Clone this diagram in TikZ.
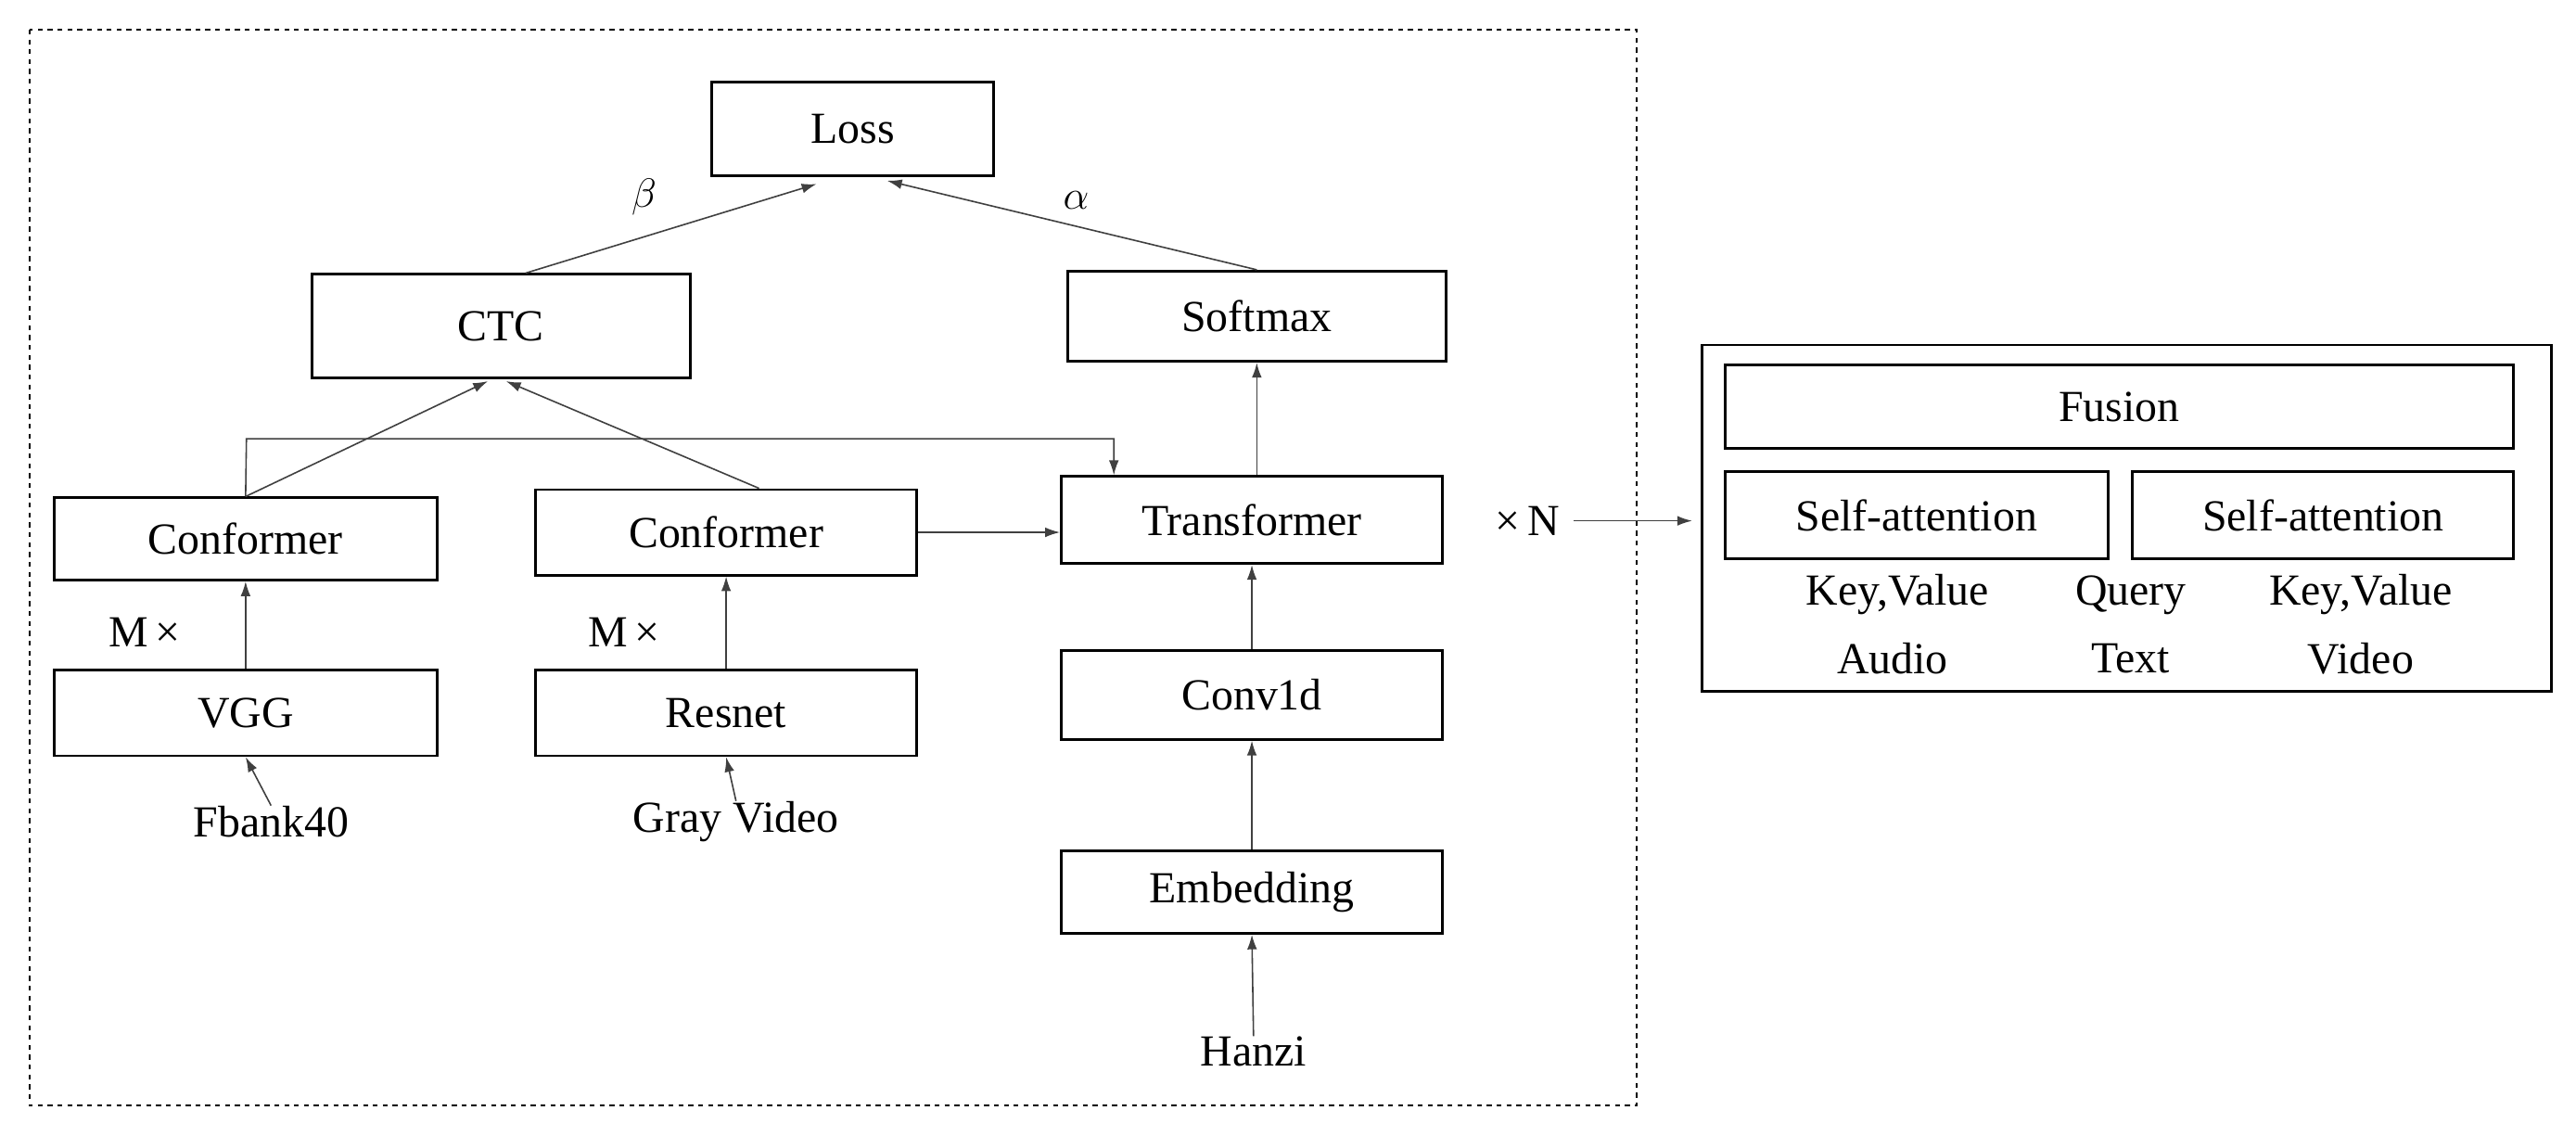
\documentclass[tikz,border=0pt]{standalone}
\usepackage{fontspec}
\setmainfont{Liberation Serif}
\usetikzlibrary{arrows.meta}
\begin{document}
\begin{tikzpicture}[x=1pt,y=-1pt,
  box/.style={draw,line width=1.6pt,inner sep=0pt,font=\fontsize{27}{30}\selectfont},
  lbl/.style={inner sep=0pt,font=\fontsize{27}{30}\selectfont},
  arr/.style={-{Latex[length=9pt,width=6pt]},line width=0.9pt,draw=black!75}]
\useasboundingbox (0,0) rectangle (1568,691);
\draw[dashed,line width=1.2pt] (18,18) rectangle (996,673);
\newcommand\bx[6]{\node[box,minimum width=#4-#2,minimum height=#5-#3] (#1) at ({(#2+#4)/2},{(#3+#5)/2}) {#6};}
\bx{loss}{433}{50}{605}{107}{Loss}
\bx{ctc}{190}{167}{420}{230}{CTC}
\bx{soft}{650}{165}{880}{220}{Softmax}
\bx{conf1}{33}{303}{266}{353}{Conformer}
\bx{conf2}{326}{298}{558}{350}{Conformer}
\bx{trans}{646}{290}{878}{343}{Transformer}
\bx{vgg}{33}{408}{266}{460}{VGG}
\bx{res}{326}{408}{558}{460}{Resnet}
\bx{conv}{646}{396}{878}{450}{Conv1d}
\bx{emb}{646}{518}{878}{568}{Embedding}
\node[lbl] (fb) at (165,500) {Fbank40};
\node[lbl] (gv) at (448,500) {Gray Video};
\node[lbl] (hz) at (763,640) {Hanzi};
\node[lbl] (m1) at (88,385) {M\,×};
\node[lbl] (m2) at (380,385) {M\,×};
\node[lbl] (xn) at (930,317) {×\,N};
\node[lbl] (be) at (392,120) {$\beta$};
\node[lbl] (al) at (655,122) {$\alpha$};
\draw[arr] (ctc.north) ++(15,0) coordinate (c1) -- (497,112);
\coordinate (l1) at (497,110);
\coordinate (l2) at (540,110);
\draw[arr] (soft.north) -- (l2);
\coordinate (ct1) at (297,232);
\coordinate (ct2) at (308,232);
\draw[arr] (conf1.north) -- (ct1);
\draw[arr] ([xshift=20pt]conf2.north) -- (ct2);
\draw[line width=0.9pt,draw=black!75,-{Latex[length=9pt,width=6pt]}] (conf1.north) -- (150,267) -| ([xshift=-84pt]trans.north);
\draw[arr] (conf2.east) -- (trans.west|-conf2.east);
\draw[arr] (soft.south|-trans.north) -- (soft.south);
\draw[arr] (conv.north) -- (trans.south);
\draw[arr] (emb.north) -- (conv.south);
\draw[arr] (hz.north) -- (emb.south);
\draw[arr] (fb.north) -- (vgg.south);
\draw[arr] (gv.north) -- (res.south);
\draw[arr] (vgg.north) -- (conf1.south);
\draw[arr] (res.north) -- (conf2.south);
% right panel
\draw[line width=1.6pt] (1036,210) rectangle (1553,421);
\bx{fus}{1050}{222}{1530}{273}{Fusion}
\bx{sa1}{1050}{287}{1283}{340}{Self-attention}
\bx{sa2}{1298}{287}{1530}{340}{Self-attention}
\coordinate (rp) at (1030,317);
\draw[arr] (xn.east) ++(8,0) -- (rp);
\node[lbl] at (1155,362) {Key,Value};
\node[lbl] at (1297,362) {Query};
\node[lbl] at (1437,362) {Key,Value};
\node[lbl] at (1152,401) {Audio};
\node[lbl] at (1297,401) {Text};
\node[lbl] at (1437,401) {Video};
\end{tikzpicture}
\end{document}
